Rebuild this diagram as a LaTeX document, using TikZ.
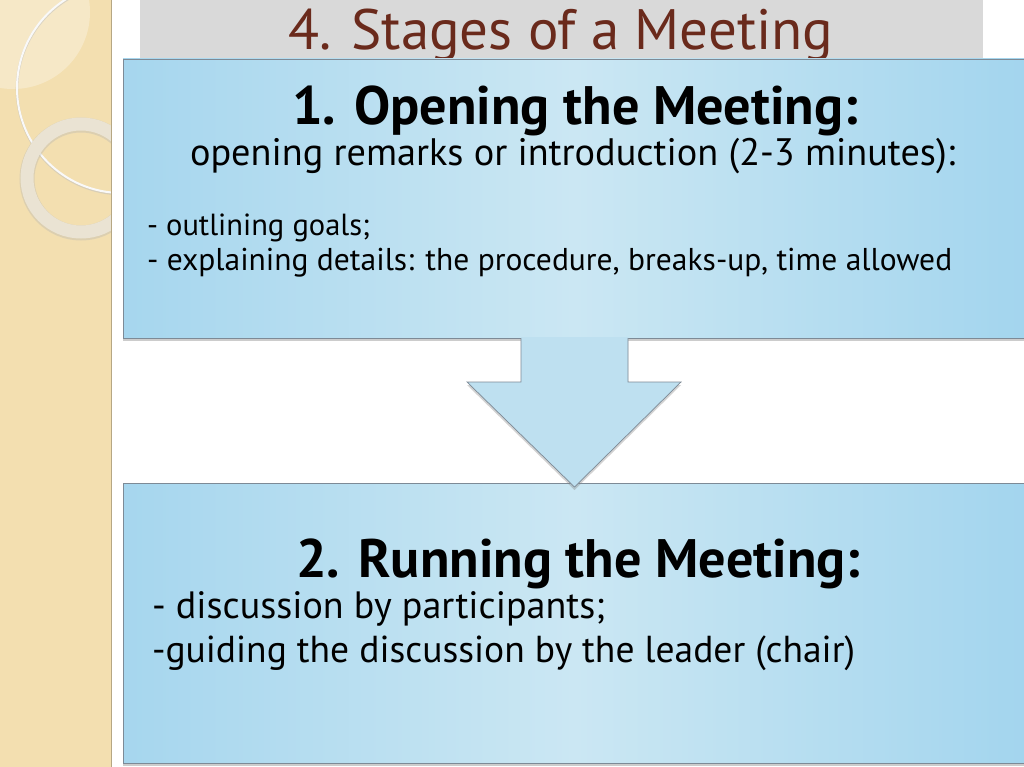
\documentclass[tikz,border=0pt]{standalone}
\usepackage{fontspec}
\usepackage{graphicx}
\setmainfont{PT Sans}
\usetikzlibrary{shadows,calc}
\definecolor{beige}{HTML}{F3DFB0}
\definecolor{ringc}{HTML}{EAE3D3}
\definecolor{titlegray}{HTML}{D9D9D9}
\definecolor{titlec}{HTML}{6A2A1C}
\definecolor{boxborder}{HTML}{7D8A96}
\definecolor{boxleft}{HTML}{A6D6EE}
\definecolor{boxmid}{HTML}{CBE7F3}
\definecolor{boxright}{HTML}{A3D5EE}
\definecolor{arrowblue}{HTML}{BEE0F0}
\newcommand{\fitw}[2]{\resizebox{#1pt}{!}{#2}}
\begin{document}
\begin{tikzpicture}[x=1pt,y=-1pt,
  boxst/.style={draw=boxborder, line width=0.7pt, left color=boxleft, right color=boxright, middle color=boxmid,
    inner sep=0pt, outer sep=0pt, anchor=north west,
    drop shadow={shadow xshift=0pt, shadow yshift=-3pt, opacity=0.4}},
  txt/.style={anchor=base west, inner sep=0pt, outer sep=0pt}]
\useasboundingbox (0,0) rectangle (1024,767);
\fill[white] (0,0) rectangle (1024,767);
% left decorative strip
\fill[beige] (0,0) rectangle (111,767);
\begin{scope}
  \clip (0,0) rectangle (111,767);
  \fill[white,opacity=0.3] (13,12) circle (77);
  \draw[black!25, line width=2.6pt, opacity=0.5] (122,89) circle (105);
  \draw[white!95!gray, line width=2pt] (122,88) circle (105);
  \draw[black!30, line width=15pt, opacity=0.35] (81,179) circle (54);
  \draw[ringc, line width=13pt] (81,178) circle (54);
\end{scope}
\draw[beige!75!black, line width=0.6pt] (111.5,0) -- (111.5,767);
% title band
\fill[titlegray] (140,0) rectangle (983,58);
\node[txt] (title) at (288,50) {\fitw{545}{\color{titlec}4. Stages of a Meeting}};
% boxes
\node[boxst, minimum width=903pt, minimum height=280pt] (bot) at (123,483) {};
\node[boxst, minimum width=903pt, minimum height=279pt] (top) at (123,59) {};
% arrow
\fill[arrowblue, drop shadow={shadow xshift=0pt, shadow yshift=-3pt, opacity=0.35}]
  ($(top.south)+(-53.5,-1)$) -- ($(top.south)+(-53.5,44)$) -- ($(top.south)+(-107.5,44)$)
  -- ($(bot.north)+(0,4)$) -- ($(top.south)+(106.5,44)$) -- ($(top.south)+(53.5,44)$)
  -- ($(top.south)+(53.5,-1)$) -- cycle;
\draw[boxborder, line width=0.7pt, line join=miter]
  ($(top.south)+(-53.5,0)$) -- ($(top.south)+(-53.5,44)$) -- ($(top.south)+(-107.5,44)$)
  -- ($(bot.north)+(0,4)$) -- ($(top.south)+(106.5,44)$) -- ($(top.south)+(53.5,44)$)
  -- ($(top.south)+(53.5,0)$);
% texts top box
\node[txt] (h1) at (292,125) {\fitw{566}{\bfseries 1. Opening the Meeting:}};
\node[txt] (s1) at (190,166) {\fitw{765}{opening remarks or introduction (2-3 minutes):}};
\node[txt] (b1) at (147,235) {\fitw{223}{- outlining goals;}};
\node[txt] (b2) at (147,270) {\fitw{805}{- explaining details: the procedure, breaks-up, time allowed}};
% texts bottom box
\node[txt] (h2) at (296,577) {\fitw{564}{\bfseries 2. Running the Meeting:}};
\node[txt] (b3) at (152,618) {\fitw{453}{- discussion by participants;}};
\node[txt] (b4) at (152,662) {\fitw{703}{-guiding the discussion by the leader (chair)}};
\end{tikzpicture}
\end{document}
